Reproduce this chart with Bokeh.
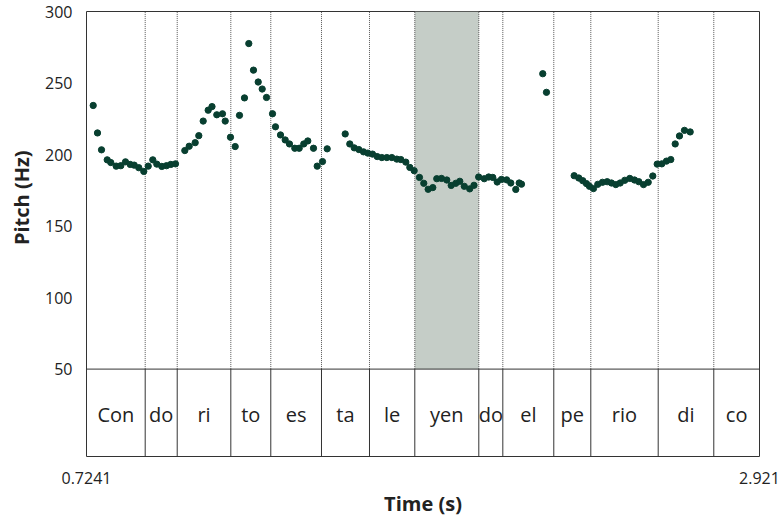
from bokeh.plotting import figure
from bokeh.models import Range1d, FixedTicker, Span, Title
from bokeh.embed import file_html
from bokeh.resources import INLINE

# ---- data ----
t_start = 0.7241
t_end = 2.921

times = [0.7460, 0.7600, 0.7731, 0.7917, 0.8034, 0.8210, 0.8361, 0.8514, 0.8668, 0.8798,
         0.8948, 0.9111, 0.9255, 0.9405, 0.9536, 0.9699, 0.9852, 0.9993, 1.0146, 1.0450,
         1.0593, 1.0789, 1.0907, 1.1050, 1.1213, 1.1338, 1.1494, 1.1680, 1.1769, 1.1941,
         1.2095, 1.2235, 1.2398, 1.2539, 1.2692, 1.2846, 1.2976, 1.3117, 1.3313, 1.3410,
         1.3574, 1.3727, 1.3867, 1.4040, 1.4184, 1.4334, 1.4465, 1.4651, 1.4772, 1.4945,
         1.5098, 1.5686, 1.5836, 1.5980, 1.6130, 1.6283, 1.6423, 1.6577, 1.6730, 1.6880,
         1.7044, 1.7207, 1.7370, 1.7501, 1.7664, 1.7795, 1.7937, 1.8110, 1.8251, 1.8394,
         1.8545, 1.8675, 1.8829, 1.9002, 1.9146, 1.9296, 1.9427, 1.9573, 1.9750, 1.9890,
         2.0043, 2.0226, 2.0370, 2.0503, 2.0647, 2.0787, 2.0957, 2.1091, 2.1254, 2.1365,
         2.1440, 2.2135, 2.2256, 2.3160, 2.3310, 2.3441, 2.3561, 2.3659, 2.3790, 2.3931,
         2.4084, 2.4238, 2.4378, 2.4519, 2.4662, 2.4812, 2.4976, 2.5130, 2.5270, 2.5424,
         2.5577, 2.5727, 2.5870, 2.6021, 2.6174, 2.6314, 2.6458, 2.6598, 2.6761, 2.6947]

pitch = [234.3, 215.1, 203.3, 196.3, 194.4, 191.9, 192.2, 194.9, 193.1, 192.6,
         190.8, 188.2, 191.9, 196.3, 193.3, 191.7, 192.2, 193.1, 193.5, 202.8,
         205.8, 208.3, 213.2, 223.4, 231.0, 233.5, 227.8, 228.5, 223.4, 212.1,
         205.6, 227.4, 239.6, 277.6, 259.0, 250.7, 245.8, 239.9, 228.5, 219.4,
         213.7, 210.2, 207.4, 204.4, 204.4, 207.4, 209.5, 204.4, 191.9, 195.1,
         204.0, 214.4, 207.4, 204.7, 203.5, 201.9, 201.0, 200.3, 198.6, 197.9,
         197.9, 197.9, 196.8, 196.5, 194.7, 191.0, 188.7, 184.0, 179.9, 175.7,
         176.9, 183.1, 183.3, 182.2, 178.4, 179.9, 181.3, 177.8, 176.0, 178.5,
         184.3, 183.1, 184.3, 184.0, 180.8, 182.6, 182.3, 180.1, 175.6, 180.1,
         179.3, 256.5, 243.5, 185.2, 183.6, 181.7, 179.7, 177.8, 176.2, 179.2,
         180.6, 181.0, 180.1, 179.0, 180.1, 182.0, 183.3, 182.2, 181.0, 179.0,
         180.6, 185.0, 193.3, 193.5, 195.4, 196.5, 207.4, 213.0, 216.9, 215.8]

boundaries = [0.9157, 1.0202, 1.1952, 1.3257, 1.4912, 1.6479, 1.7958,
              2.0047, 2.0831, 2.2495, 2.3703, 2.5903, 2.7718]
syllables = ["Con", "do", "ri", "to", "es", "ta", "le", "yen", "do", "el",
             "pe", "rio", "di", "co"]
highlight = "yen"

y_ticks = [50, 100, 150, 200, 250, 300]
pitch_min = 50
pitch_max = 300
tier_bottom = -11.1

FONT = "Open Sans"

edges = [t_start] + boundaries + [t_end]
centers = [(a + b) / 2 for a, b in zip(edges[:-1], edges[1:])]
hi = syllables.index(highlight)

p = figure(width=782, height=519, output_backend="svg", toolbar_location=None,
           x_range=Range1d(t_start, t_end), y_range=Range1d(tier_bottom, pitch_max),
           min_border_left=86, min_border_right=23, min_border_top=11, min_border_bottom=60)
p.background_fill_color = "white"
p.border_fill_color = "white"
p.xgrid.visible = False
p.ygrid.visible = False
p.outline_line_color = "#333333"
p.outline_line_width = 1

# highlighted interval
p.quad(left=[edges[hi]], right=[edges[hi + 1]], bottom=[pitch_min], top=[pitch_max],
       fill_color="#c5cdc7", line_color=None)

# dotted boundaries in pitch area
p.segment(x0=boundaries, y0=[pitch_min] * len(boundaries), x1=boundaries,
          y1=[pitch_max] * len(boundaries), line_color="#555555", line_width=1,
          line_dash="1 1")
# solid boundaries in tier
p.segment(x0=boundaries, y0=[tier_bottom] * len(boundaries), x1=boundaries,
          y1=[pitch_min] * len(boundaries), line_color="#333333", line_width=1)
p.add_layout(Span(location=pitch_min, dimension="width", line_color="#333333", line_width=1))

# pitch points
p.scatter(times, pitch, size=6.3, fill_color="#083f30", line_color="#083f30")

# tier labels
p.text(x=centers, y=[(pitch_min + tier_bottom) / 2 - 1.5] * len(centers), text=syllables,
       text_align="center", text_baseline="middle", text_font_size="20px",
       text_color="#222222", text_font={"value": FONT})

# axes
p.yaxis.ticker = FixedTicker(ticks=y_ticks)
p.yaxis.major_tick_line_color = None
p.yaxis.minor_tick_line_color = None
p.yaxis.axis_line_color = None
p.yaxis.major_label_standoff = 8
p.yaxis.major_label_text_font = FONT
p.yaxis.major_label_text_font_size = "16px"
p.yaxis.major_label_text_color = "#222222"

p.xaxis.ticker = FixedTicker(ticks=[t_start, t_end])
p.xaxis.major_label_overrides = {t_start: "0.7241", t_end: "2.921"}
p.xaxis.major_tick_line_color = None
p.xaxis.minor_tick_line_color = None
p.xaxis.axis_line_color = None
p.xaxis.major_label_standoff = 9
p.xaxis.major_label_text_font = FONT
p.xaxis.major_label_text_font_size = "16px"
p.xaxis.major_label_text_color = "#222222"
p.xaxis.axis_label = "Time (s)"
p.xaxis.axis_label_text_font = FONT
p.xaxis.axis_label_text_font_size = "20px"
p.xaxis.axis_label_text_font_style = "bold"
p.xaxis.axis_label_text_color = "#222222"
p.xaxis.axis_label_standoff = 3

p.add_layout(Title(text="Pitch (Hz)", align="right", offset=139, standoff=11,
                   vertical_align="top", text_font=FONT,
                   text_font_size="20px", text_font_style="bold", text_color="#222222"),
             "left")

open("out.html", "w").write(file_html(p, INLINE))
